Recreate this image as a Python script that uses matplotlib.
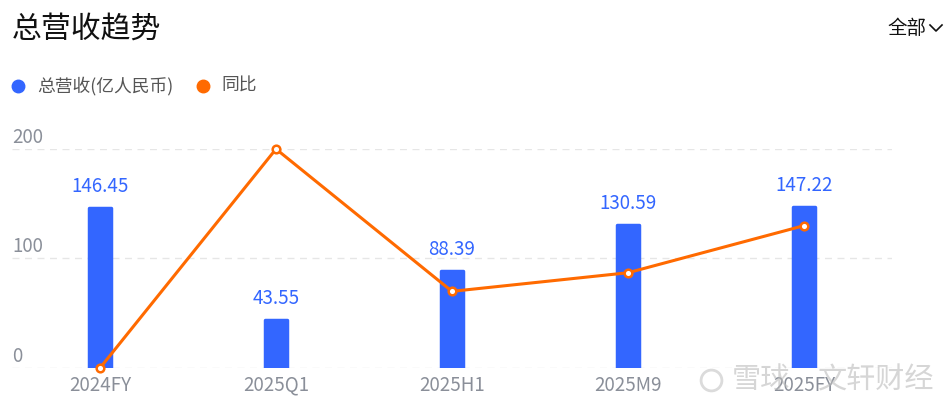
import matplotlib

matplotlib.use("Agg")
import matplotlib.pyplot as plt
import matplotlib.transforms as mtransforms

plt.rcParams["font.family"] = ["Noto Sans CJK SC", "DejaVu Sans"]

CATEGORIES = ["2024FY", "2025Q1", "2025H1", "2025M9", "2025FY"]
REVENUE = [146.45, 43.55, 88.39, 130.59, 147.22]
YOY = [0, 200, 70, 87, 130]
Y_TICKS = [0, 100, 200]

BLUE = "#3366ff"
ORANGE = "#ff6a00"
GRAY = "#8a8f99"

W, H = 951, 411
fig = plt.figure(figsize=(W / 100, H / 100), dpi=100)
ax = fig.add_axes([12 / W, 43 / H, 880 / W, 219 / H])

xs = list(range(len(CATEGORIES)))
ax.bar(xs, REVENUE, width=0.125, color=BLUE, edgecolor=BLUE,
       linewidth=2.5, joinstyle="round", zorder=2)
for x, v in zip(xs, REVENUE):
    ax.annotate(f"{v:.2f}", (x, v), xytext=(0, 8), textcoords="offset points",
                ha="center", va="bottom", fontsize=13.5, color=BLUE)

ax.plot(xs, YOY, color=ORANGE, linewidth=2.2, marker="o", markersize=5.5,
        markerfacecolor="white", markeredgecolor=ORANGE, markeredgewidth=1.8,
        zorder=3, clip_on=False)

ax.set_xlim(-0.5, len(CATEGORIES) - 0.5)
ax.set_ylim(0, 200)
ax.set_yticks(Y_TICKS)
ax.set_yticklabels([])
ax.grid(axis="y", color="#e6e6e6", linestyle=(0, (5, 4)), linewidth=1.0, zorder=0)
ax.set_xticks(xs)
ax.set_xticklabels(CATEGORIES, fontsize=13.5, color=GRAY)
ax.tick_params(axis="both", length=0)
ax.tick_params(axis="x", pad=5)
for spine in ax.spines.values():
    spine.set_visible(False)

trans = mtransforms.blended_transform_factory(ax.transAxes, ax.transData)
for t in Y_TICKS:
    ax.annotate(str(t), (0, t), xycoords=trans, xytext=(0, 1), textcoords="offset points",
                ha="left", va="bottom", fontsize=13.5, color=GRAY)

# header
fig.text(12 / W, 1 - 29 / H, "总营收趋势", fontsize=21.5, color="#111111", va="center", ha="left")
fig.text(926 / W, 1 - 29 / H, "全部", fontsize=14, color="#111111", va="center", ha="right")
fig.lines.append(plt.Line2D([930 / W, 936 / W, 942 / W],
                            [1 - 25 / H, 1 - 31 / H, 1 - 25 / H],
                            transform=fig.transFigure, color="#111111", linewidth=1.2))

# legend
fig.lines.append(plt.Line2D([18 / W], [1 - 86 / H], marker="o", markersize=9, linestyle="none",
                            color=BLUE, transform=fig.transFigure))
fig.text(37 / W, 1 - 86 / H, "总营收(亿人民币)", fontsize=12.8, color="#555555", va="center")
fig.lines.append(plt.Line2D([203 / W], [1 - 86 / H], marker="o", markersize=9, linestyle="none",
                            color=ORANGE, transform=fig.transFigure))
fig.text(221 / W, 1 - 86 / H, "同比", fontsize=12.8, color="#555555", va="center")

# watermark
fig.lines.append(plt.Line2D([711 / W], [1 - 380 / H], marker="o", markersize=15, linestyle="none",
                            markerfacecolor="none", markeredgecolor="#cccccc",
                            markeredgewidth=2, transform=fig.transFigure, alpha=0.7))
fig.text(732 / W, 1 - 380 / H, "雪球", fontsize=21, color="#bbbbbb", alpha=0.6,
         va="center", ha="left", zorder=5)
fig.text(818 / W, 1 - 380 / H, "文轩财经", fontsize=21, color="#bbbbbb", alpha=0.6,
         va="center", ha="left", zorder=5)

fig.savefig("out.png", dpi=100)
